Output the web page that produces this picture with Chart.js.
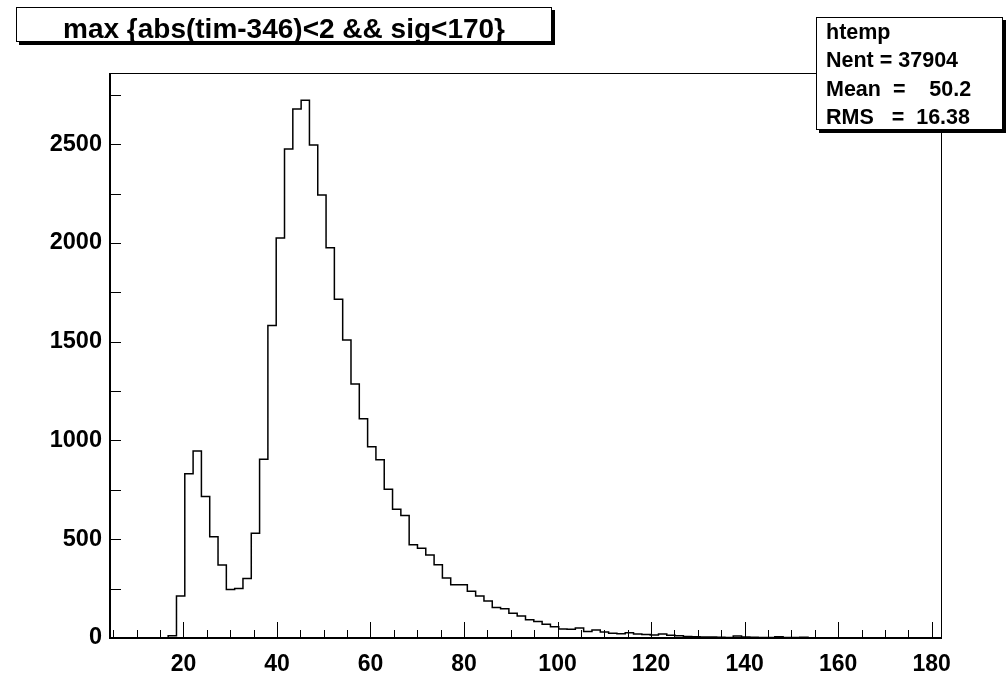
<!DOCTYPE html>
<html>
<head>
<meta charset="utf-8">
<script src="https://cdn.jsdelivr.net/npm/chart.js@4/dist/chart.umd.min.js"></script>
<style>
    html, body { margin: 0; padding: 0; background: #fff; }
    #wrap { position: relative; width: 1006px; height: 674px; }
    .box {
        position: absolute; box-sizing: border-box; background: #fff;
        border: 1px solid #000; box-shadow: 3px 3px 0 #000;
        font-family: "Liberation Sans", Arial, Helvetica, sans-serif; font-weight: bold; color: #000;
    }
    #title { left: 16px; top: 7px; width: 536px; height: 35px; padding-top: 4px;
        font-size: 28px; line-height: 33px; text-align: center; white-space: pre; overflow: hidden; }
    #stats { left: 816px; top: 17px; width: 187px; height: 113px; padding-left: 9px;
        font-size: 21.5px; line-height: 28.3px; white-space: pre; }
</style>
</head>
<body>
<div id="wrap">
    <canvas id="c" width="1006" height="674"></canvas>
    <div id="title" class="box">max {abs(tim-346)&lt;2 &amp;&amp; sig&lt;170}</div>
    <div id="stats" class="box">htemp
Nent = 37904
Mean  =    50.2
RMS   =  16.38</div>
</div>
<script>
// htemp: 100 bins, x from XMIN to XMAX
const XMIN = 4.3;
const XMAX = 182;
const YMAX = 2860;

const binCounts = [
    0, 0, 0, 0, 0, 0, 0, 12, 212, 832,
    946, 716, 512, 369, 246, 250, 301, 530, 905, 1582,
    2025, 2475, 2678, 2722, 2495, 2242, 1975, 1715, 1508, 1286,
    1110, 968, 902, 753, 652, 620, 472, 454, 420, 371,
    304, 270, 270, 237, 212, 187, 155, 148, 125, 111,
    93, 84, 69, 57, 45, 44, 50, 33, 40, 30,
    24, 22, 27, 20, 18, 15, 20, 14, 12, 8,
    6, 5, 5, 4, 3, 10, 5, 4, 2, 2,
    6, 2, 3, 4, 1, 0, 1, 0, 0, 1,
    0, 0, 0, 0, 0, 0, 0, 0, 0, 0
];

const xTickValues = [20, 40, 60, 80, 100, 120, 140, 160, 180];
const xMinorStep = 5;
const yTickValues = [0, 500, 1000, 1500, 2000, 2500];
const yMinorStep = 250;

const FONT = '"Liberation Sans", Arial, Helvetica, sans-serif';

// 막대 경계 -> 계단선 점 (마지막 점은 XMAX에서 닫음)
const binWidth = (XMAX - XMIN) / binCounts.length;
const points = binCounts.map((v, i) => ({ x: XMIN + i * binWidth, y: v }));
points.push({ x: XMAX, y: binCounts[binCounts.length - 1] });

// 프레임 + 안쪽으로 향하는 눈금 (ROOT 스타일)
const framePlugin = {
    id: 'frame',
    beforeDatasetsDraw(chart) {
        const { ctx, chartArea: a, scales } = chart;
        const xs = scales.x, ys = scales.y;
        ctx.save();
        ctx.strokeStyle = '#000';
        ctx.lineWidth = 1;
        ctx.strokeRect(a.left + 0.5, a.top + 0.5, a.right - a.left, a.bottom - a.top);

        ctx.beginPath();
        for (let v = xMinorStep; v <= XMAX; v += xMinorStep) {
            if (v < XMIN) continue;
            const px = Math.round(xs.getPixelForValue(v)) + 0.5;
            const len = xTickValues.includes(v) ? 16 : 8;
            ctx.moveTo(px, a.bottom);
            ctx.lineTo(px, a.bottom - len);
        }
        for (let v = 0; v <= YMAX; v += yMinorStep) {
            const py = Math.round(ys.getPixelForValue(v)) + 0.5;
            ctx.moveTo(a.left, py);
            ctx.lineTo(a.left + 11, py);
        }
        ctx.stroke();

        // 축선 (좌/하) 조금 굵게
        ctx.lineWidth = 2;
        ctx.beginPath();
        ctx.moveTo(a.left, a.top);
        ctx.lineTo(a.left, a.bottom);
        ctx.lineTo(a.right, a.bottom);
        ctx.stroke();
        ctx.restore();
    }
};

new Chart(document.getElementById('c'), {
    type: 'line',
    data: {
        datasets: [{
            label: 'htemp',
            data: points,
            stepped: 'before',
            borderColor: '#000',
            borderWidth: 1.5,
            pointRadius: 0,
            fill: false,
        }]
    },
    options: {
        responsive: false,
        devicePixelRatio: 1,
        animation: false,
        layout: { padding: { left: 0, top: 73, right: 65, bottom: 0 } },
        plugins: { legend: { display: false }, tooltip: { enabled: false }, title: { display: false } },
        scales: {
            x: {
                type: 'linear', min: XMIN, max: XMAX,
                grid: { display: false, drawTicks: false },
                border: { display: false },
                ticks: { color: '#000', padding: 13, maxRotation: 0, autoSkip: false,
                    callback: v => String(v),
                    font: { family: FONT, size: 23, weight: 'bold' } },
                afterBuildTicks: s => { s.ticks = xTickValues.map(v => ({ value: v })); },
                afterFit: s => { s.height = 36; },
            },
            y: {
                type: 'linear', min: 0, max: YMAX,
                grid: { display: false, drawTicks: false },
                border: { display: false },
                ticks: { color: '#000', padding: 8, autoSkip: false,
                    callback: v => String(v),
                    font: { family: FONT, size: 23.5, weight: 'bold' } },
                afterBuildTicks: s => { s.ticks = yTickValues.map(v => ({ value: v })); },
                afterFit: s => { s.width = 110; },
            }
        }
    },
    plugins: [framePlugin]
});
</script>
</body>
</html>
